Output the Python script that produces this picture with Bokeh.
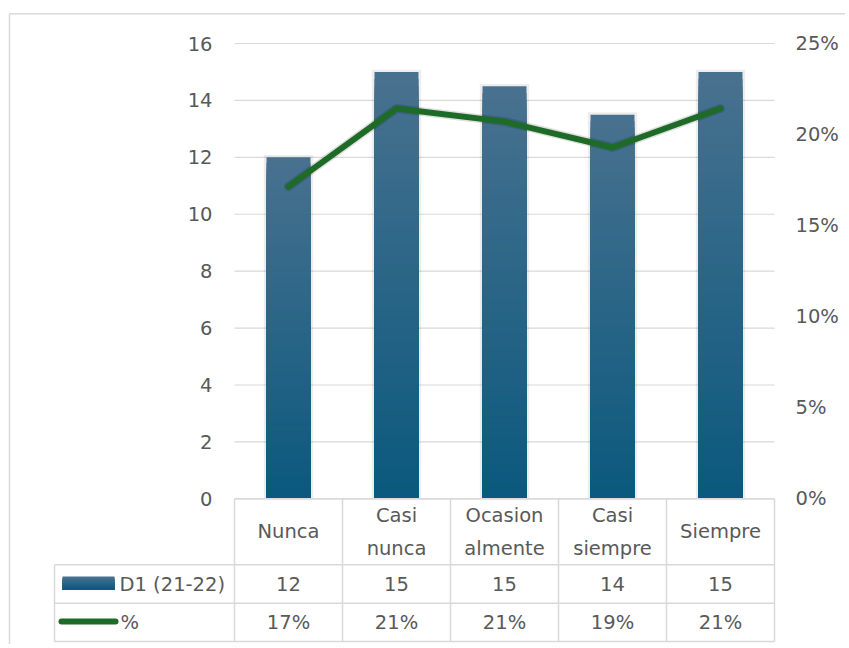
import numpy as np
from bokeh.plotting import figure
from bokeh.models import Range1d, LinearAxis, FixedTicker, PrintfTickFormatter
from bokeh.core.properties import value
from bokeh.embed import file_html
from bokeh.resources import INLINE

# ---------------- data ----------------
categories = ["Nunca", "Casi nunca", "Ocasionalmente", "Casi siempre", "Siempre"]
category_labels = ["Nunca", "Casi\nnunca", "Ocasion\nalmente", "Casi\nsiempre", "Siempre"]
d1_values = [12, 15, 14.5, 13.5, 15]
pct_values = [17.14, 21.43, 20.71, 19.29, 21.43]
left_ticks = [0, 2, 4, 6, 8, 10, 12, 14, 16]
right_ticks = [0, 5, 10, 15, 20, 25]
series_names = ["D1 (21-22)", "%"]

# ---------------- styling / layout ----------------
FONT = value("DejaVu Sans")
FS = "19.5px"
TXT = "#595959"
GRID = "#d9d9d9"
BAR_TOP = np.array([0x48, 0x71, 0x8f])
BAR_BOT = np.array([0x0b, 0x59, 0x7e])
LINE_COL = "#1d6b26"

W, H = 845, 644
PAGE = 0                      # observed offset of the figure in the page
X0_PX, Y0_PX = 234.0, 498.3   # page position of category 0 / value 0
PX_X = 108.0                  # px per category
PX_Y = (Y0_PX - 43.0) / 16    # px per unit on the left axis


def xd(px):
    return (px - X0_PX) / PX_X


def yd(py):
    return (Y0_PX - py) / PX_Y


Y_MAX = left_ticks[-1]
PCT_MAX = right_ticks[-1]
Y_TOP, Y_BOTTOM = yd(PAGE), yd(PAGE + H)
X_START, X_END = xd(PAGE), xd(PAGE + W)

ROW_EDGES = [0, yd(564.3), yd(602.7), yd(641)]
TABLE_LEFT = xd(54)
BAR_W = 0.407

p = figure(width=W, height=H, output_backend="svg", toolbar_location=None,
           x_range=Range1d(X_START, X_END), y_range=Range1d(Y_BOTTOM, Y_TOP),
           x_axis_type=None, y_axis_type=None,
           min_border_left=0, min_border_right=0, min_border_top=0, min_border_bottom=0)
p.outline_line_color = None
p.background_fill_color = "white"
p.border_fill_color = "white"
p.extra_y_ranges = {"pct": Range1d(Y_BOTTOM * PCT_MAX / Y_MAX, Y_TOP * PCT_MAX / Y_MAX)}

n = len(categories)
xc = np.arange(n) + 0.5

# chart area border (top / left)
p.segment(x0=[xd(9), xd(9)], x1=[X_END, xd(9)], y0=[yd(13.3), yd(13.3)], y1=[yd(13.3), Y_BOTTOM],
          line_color=GRID, line_width=1.5)

# gridlines
p.segment(x0=[0] * len(left_ticks), x1=[n] * len(left_ticks), y0=left_ticks, y1=left_ticks,
          line_color=GRID, line_width=1.2)

# bar shadow
p.quad(left=xc - BAR_W / 2 - 0.025, right=xc + BAR_W / 2 + 0.025, bottom=0,
       top=np.array(d1_values) + 0.08, fill_color="black", fill_alpha=0.07, line_color=None)

# gradient bars (layers from top colour down)
NS = 60
for k in range(NS):
    f = 1 - k / NS
    t = k / (NS - 1)
    col = BAR_TOP + (BAR_BOT - BAR_TOP) * t
    hexc = "#%02x%02x%02x" % tuple(int(round(c)) for c in col)
    p.quad(left=xc - BAR_W / 2, right=xc + BAR_W / 2, bottom=0,
           top=np.array(d1_values) * f, fill_color=hexc, line_color=None)

# line with faint shadow
p.line(x=xc, y=pct_values, y_range_name="pct", line_color="black", line_alpha=0.12,
       line_width=9, line_join="round", line_cap="round")
p.line(x=xc, y=pct_values, y_range_name="pct", line_color=LINE_COL,
       line_width=6, line_join="round", line_cap="round")

# axes (fixed inside the frame)
yl = LinearAxis(ticker=FixedTicker(ticks=left_ticks), fixed_location=0)
yr = LinearAxis(y_range_name="pct", ticker=FixedTicker(ticks=right_ticks),
                formatter=PrintfTickFormatter(format="%d%%"), fixed_location=n)
for ax, so in [(yl, 22), (yr, 21)]:
    ax.axis_line_color = None
    ax.major_tick_line_color = None
    ax.minor_tick_line_color = None
    ax.major_tick_out = 0
    ax.major_tick_in = 0
    ax.minor_tick_out = 0
    ax.minor_tick_in = 0
    ax.major_label_standoff = so
    ax.major_label_text_font = "DejaVu Sans"
    ax.major_label_text_font_size = FS
    ax.major_label_text_color = TXT
p.add_layout(yl, "left")
p.add_layout(yr, "right")

# data table lines
r0, r1, r2, r3 = ROW_EDGES
hx0 = [0, TABLE_LEFT, TABLE_LEFT, TABLE_LEFT]
hx1 = [n, n, n, n]
p.segment(x0=hx0, x1=hx1, y0=ROW_EDGES, y1=ROW_EDGES, line_color=GRID, line_width=1.5)
vx = list(range(n + 1)) + [TABLE_LEFT]
vy0 = [r0] * (n + 1) + [r1]
p.segment(x0=vx, x1=vx, y0=vy0, y1=[r3] * (n + 2), line_color=GRID, line_width=1.5)

# table text
rc_head = (r0 + r1) / 2
rc_d1 = (r1 + r2) / 2
rc_pct = (r2 + r3) / 2
d1_text = [str(int(v + 0.5)) for v in d1_values]
pct_text = ["%d%%" % int(v + 0.5) for v in pct_values]
common = dict(text_font=FONT, text_font_size=FS, text_color=TXT, text_baseline="middle")
p.text(x=xc, y=[rc_head] * n, text=category_labels, text_align="center",
       text_line_height=1.42, **common)
p.text(x=xc, y=[rc_d1] * n, text=d1_text, text_align="center", **common)
p.text(x=xc, y=[rc_pct] * n, text=pct_text, text_align="center", **common)

# legend keys in table
sw_l, sw_r = xd(62), xd(114)
sw_t, sw_b = yd(576), yd(589)
for k in range(12):
    t = k / 11
    col = BAR_TOP + (BAR_BOT - BAR_TOP) * t
    hexc = "#%02x%02x%02x" % tuple(int(round(c)) for c in col)
    p.quad(left=[sw_l], right=[sw_r], bottom=[sw_b], top=[sw_t - (sw_t - sw_b) * k / 12],
           fill_color=hexc, line_color=None)
ly = yd(621)
p.line(x=[xd(61), xd(115)], y=[ly, ly], line_color=LINE_COL, line_width=6, line_cap="round")
p.text(x=[xd(119), xd(120)], y=[rc_d1, rc_pct], text=series_names,
       text_align="left", **common)

open("out.html", "w").write(file_html(p, INLINE))
